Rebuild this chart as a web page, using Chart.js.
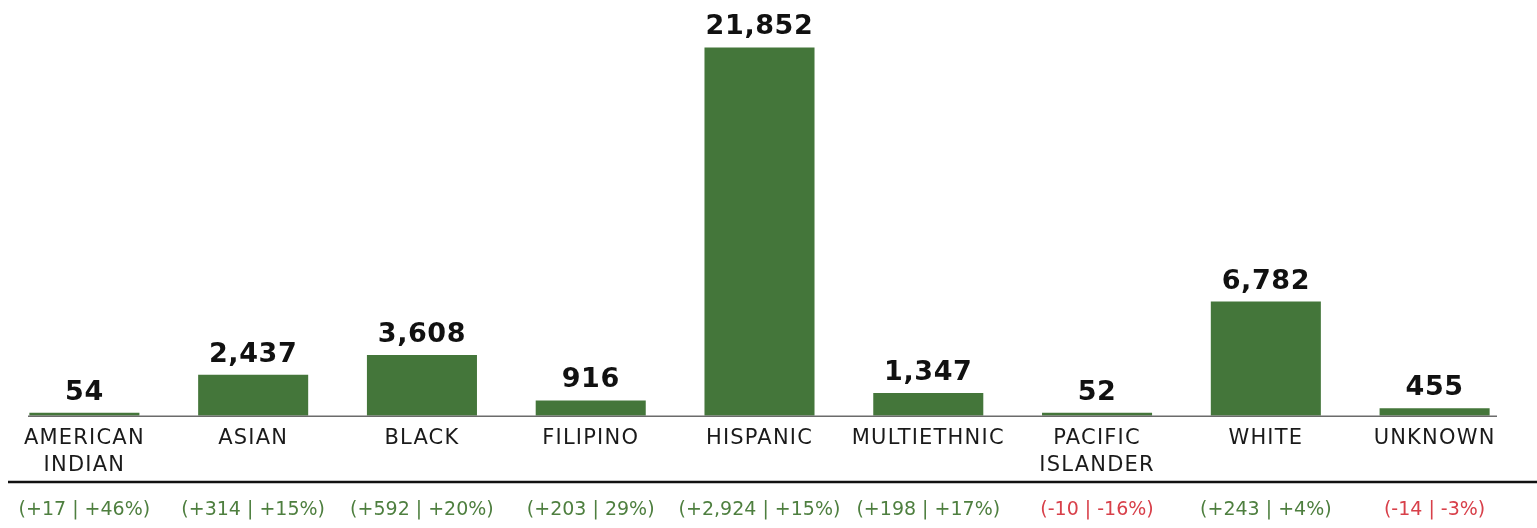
<!DOCTYPE html>
<html>
<head>
<meta charset="utf-8">
<script src="https://cdn.jsdelivr.net/npm/chart.js@4.4.1/dist/chart.umd.min.js"></script>
<style>
  html, body { margin: 0; padding: 0; background: #ffffff; }
  #wrap { position: relative; width: 1537px; height: 528px; }
</style>
</head>
<body>
<div id="wrap"><canvas id="c"></canvas></div>
<script>
const categories = [
  ["AMERICAN", "INDIAN"], "ASIAN", "BLACK", "FILIPINO", "HISPANIC",
  "MULTIETHNIC", ["PACIFIC", "ISLANDER"], "WHITE", "UNKNOWN"
];
const enrollment = [54, 2437, 3608, 916, 21852, 1347, 52, 6782, 455];
const valueLabels = ["54", "2,437", "3,608", "916", "21,852", "1,347", "52", "6,782", "455"];
const changeLabels = [
  "(+17 | +46%)", "(+314 | +15%)", "(+592 | +20%)", "(+203 | 29%)", "(+2,924 | +15%)",
  "(+198 | +17%)", "(-10 | -16%)", "(+243 | +4%)", "(-14 | -3%)"
];
const changeDirection = [1, 1, 1, 1, 1, 1, -1, 1, -1];

const BAR = '#44763a';
const GREEN_TXT = '#4e7f3f';
const RED_TXT = '#d8404a';
const FONT = "'DejaVu Sans', 'Noto Sans', sans-serif";

const spacingPlugin = {
  id: 'spacingPlugin',
  beforeDraw(chart) { chart.ctx.letterSpacing = '1.2px'; },
  afterDraw(chart) { chart.ctx.letterSpacing = '0px'; }
};

const labelPlugin = {
  id: 'labelPlugin',
  afterDatasetsDraw(chart) {
    const ctx = chart.ctx;
    const xs = chart.scales.x;
    const meta = chart.getDatasetMeta(0);
    const area = chart.chartArea;
    ctx.save();
    // base axis line
    ctx.strokeStyle = '#6b6b6b';
    ctx.lineWidth = 1.5;
    ctx.beginPath();
    ctx.moveTo(28, area.bottom + 0.5);
    ctx.lineTo(1497, area.bottom + 0.5);
    ctx.stroke();
    // value labels
    ctx.letterSpacing = '0.6px';
    ctx.fillStyle = '#111111';
    ctx.font = "bold 27px " + FONT;
    ctx.textAlign = 'center';
    ctx.textBaseline = 'alphabetic';
    meta.data.forEach((bar, i) => {
      ctx.fillText(valueLabels[i], bar.x, bar.y - 13);
    });
    // black separator
    ctx.strokeStyle = '#111111';
    ctx.lineWidth = 2.5;
    ctx.beginPath();
    ctx.moveTo(8, 482);
    ctx.lineTo(1537, 482);
    ctx.stroke();
    // change labels
    ctx.letterSpacing = '0px';
    ctx.font = "19px " + FONT;
    ctx.textBaseline = 'middle';
    changeLabels.forEach((t, i) => {
      ctx.fillStyle = changeDirection[i] > 0 ? GREEN_TXT : RED_TXT;
      ctx.fillText(t, xs.getPixelForValue(i), 510);
    });
    ctx.restore();
  }
};

new Chart(document.getElementById('c'), {
  type: 'bar',
  data: {
    labels: categories,
    datasets: [{
      data: enrollment,
      backgroundColor: BAR,
      borderWidth: 0,
      minBarLength: 3,
      categoryPercentage: 1.0,
      barPercentage: 0.652
    }]
  },
  options: {
    responsive: true,
    maintainAspectRatio: false,
    animation: false,
    devicePixelRatio: 1,
    layout: { padding: { top: 45, left: 0, right: 18, bottom: 40 } },
    plugins: { legend: { display: false }, tooltip: { enabled: false } },
    scales: {
      x: {
        grid: { display: false, drawTicks: false },
        border: { display: false },
        ticks: {
          color: '#1a1a1a',
          font: { family: FONT, size: 21, lineHeight: 1.29 },
          padding: 9,
          maxRotation: 0,
          autoSkip: false
        }
      },
      y: {
        display: false,
        min: 0,
        max: 22000
      }
    }
  },
  plugins: [spacingPlugin, labelPlugin]
});
</script>
</body>
</html>
